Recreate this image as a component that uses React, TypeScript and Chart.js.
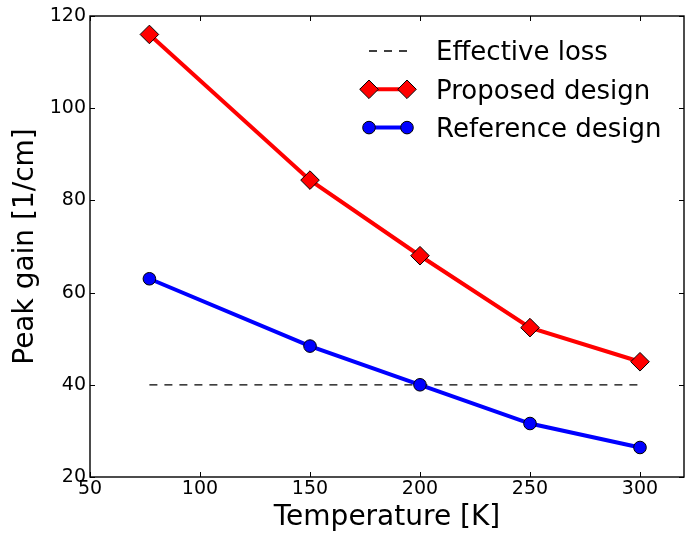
import React, { useEffect, useRef } from "react";
import { Chart, registerables } from "chart.js";

Chart.register(...registerables);

// ---- data ----
const temperatures = [77, 150, 200, 250, 300];
const proposedGain = [116, 84.4, 68, 52.4, 45];
const referenceGain = [63, 48.4, 40, 31.6, 26.4];
const lossTemps = [77, 300];
const lossValues = [40, 40];
const xTicks = [50, 100, 150, 200, 250, 300];
const yTicks = [20, 40, 60, 80, 100, 120];
const xRange = [50, 320];
const yRange = [20, 120];
const seriesLabels = ["Effective loss", "Proposed design", "Reference design"];
const xTitle = "Temperature [K]";
const yTitle = "Peak gain [1/cm]";

const FONT = "'DejaVu Sans', Verdana, sans-serif";

const framePlugin = {
  id: "frameTicks",
  afterDatasetsDraw(chart: any) {
    const { ctx, chartArea: a, scales } = chart;
    const xs = scales.x;
    const ys = scales.y;
    ctx.save();
    ctx.strokeStyle = "#000";
    ctx.lineWidth = 1;
    ctx.beginPath();
    for (const v of xTicks) {
      const px = Math.round(xs.getPixelForValue(v)) + 0.5;
      ctx.moveTo(px, a.bottom);
      ctx.lineTo(px, a.bottom - 5);
      ctx.moveTo(px, a.top);
      ctx.lineTo(px, a.top + 5);
    }
    for (const v of yTicks) {
      const py = Math.round(ys.getPixelForValue(v)) + 0.5;
      ctx.moveTo(a.left, py);
      ctx.lineTo(a.left + 5, py);
      ctx.moveTo(a.right, py);
      ctx.lineTo(a.right - 5, py);
    }
    ctx.stroke();
    ctx.lineWidth = 1.4;
    ctx.strokeRect(a.left, a.top, a.right - a.left, a.bottom - a.top);
    ctx.restore();
  },
};

function drawMarker(ctx: CanvasRenderingContext2D, style: string, x: number, y: number, r: number, fill: string) {
  ctx.beginPath();
  if (style === "rectRot") {
    ctx.moveTo(x - r, y);
    ctx.lineTo(x, y - r);
    ctx.lineTo(x + r, y);
    ctx.lineTo(x, y + r);
    ctx.closePath();
  } else {
    ctx.arc(x, y, r, 0, Math.PI * 2);
  }
  ctx.fillStyle = fill;
  ctx.fill();
  ctx.lineWidth = 1;
  ctx.strokeStyle = "#000";
  ctx.stroke();
}

const legendPlugin = {
  id: "mplLegend",
  afterDraw(chart: any) {
    const { ctx } = chart;
    const order = [2, 0, 1];
    const rowY = [51, 89.3, 127.6];
    const hx0 = 369;
    const hx1 = 407;
    const tx = 436;
    ctx.save();
    order.forEach((di: number, i: number) => {
      const ds = chart.data.datasets[di];
      const y = rowY[i];
      ctx.beginPath();
      ctx.setLineDash(ds.borderDash || []);
      ctx.lineWidth = ds.borderWidth;
      ctx.strokeStyle = ds.borderColor;
      ctx.moveTo(hx0, y);
      ctx.lineTo(hx1, y);
      ctx.stroke();
      ctx.setLineDash([]);
      if (ds.pointRadius > 0) {
        drawMarker(ctx, ds.pointStyle, hx0, y, ds.pointRadius, ds.pointBackgroundColor);
        drawMarker(ctx, ds.pointStyle, hx1, y, ds.pointRadius, ds.pointBackgroundColor);
      }
      ctx.fillStyle = "#000";
      ctx.font = `26px ${FONT}`;
      ctx.textAlign = "left";
      ctx.textBaseline = "alphabetic";
      ctx.fillText(ds.label, tx, y + 9.3);
    });
    ctx.restore();
  },
};

export default function App() {
  const ref = useRef<HTMLCanvasElement | null>(null);

  useEffect(() => {
    if (!ref.current) return;
    const chart = new Chart(ref.current, {
      type: "line",
      data: {
        datasets: [
          {
            label: seriesLabels[1],
            data: temperatures.map((t, i) => ({ x: t, y: proposedGain[i] })),
            borderColor: "#ff0000",
            backgroundColor: "#ff0000",
            borderWidth: 4,
            pointStyle: "rectRot",
            pointRadius: 9.3,
            pointBackgroundColor: "#ff0000",
            pointBorderColor: "#000",
            pointBorderWidth: 1,
            order: 1,
          },
          {
            label: seriesLabels[2],
            data: temperatures.map((t, i) => ({ x: t, y: referenceGain[i] })),
            borderColor: "#0000ff",
            backgroundColor: "#0000ff",
            borderWidth: 4,
            pointStyle: "circle",
            pointRadius: 6.3,
            pointBackgroundColor: "#0000ff",
            pointBorderColor: "#000",
            pointBorderWidth: 1,
            order: 2,
          },
          {
            label: seriesLabels[0],
            data: lossTemps.map((t, i) => ({ x: t, y: lossValues[i] })),
            borderColor: "#000",
            borderWidth: 1.3,
            borderDash: [8, 7],
            pointRadius: 0,
            order: 3,
          },
        ],
      },
      options: {
        animation: false,
        responsive: false,
        maintainAspectRatio: false,
        events: [],
        layout: { autoPadding: false, padding: { top: 16, right: 2, left: 0, bottom: 0 } },
        plugins: {
          legend: { display: false },
          tooltip: { enabled: false },
        },
        scales: {
          x: {
            type: "linear",
            min: xRange[0],
            max: xRange[1],
            grid: { display: false, drawTicks: false },
            border: { display: false },
            afterBuildTicks: (s: any) => {
              s.ticks = xTicks.map((v) => ({ value: v }));
            },
            afterFit: (s: any) => {
              s.height = 60;
              s.paddingLeft = 0;
              s.paddingRight = 0;
            },
            ticks: {
              color: "#000",
              font: { family: FONT, size: 19 },
              padding: 1,
              maxRotation: 0,
              autoSkip: false,
            },
            title: {
              display: true,
              text: xTitle,
              color: "#000",
              font: { family: FONT, size: 28 },
              padding: { top: 0, bottom: 2 },
            },
          },
          y: {
            type: "linear",
            min: yRange[0],
            max: yRange[1],
            grid: { display: false, drawTicks: false },
            border: { display: false },
            afterBuildTicks: (s: any) => {
              s.ticks = yTicks.map((v) => ({ value: v }));
            },
            afterFit: (s: any) => {
              s.width = 90;
              s.paddingTop = 0;
              s.paddingBottom = 0;
            },
            ticks: {
              color: "#000",
              font: { family: FONT, size: 19 },
              padding: 4,
              autoSkip: false,
            },
            title: {
              display: true,
              text: yTitle,
              color: "#000",
              font: { family: FONT, size: 28 },
              padding: { top: 9, bottom: 0 },
            },
          },
        },
      },
      plugins: [framePlugin, legendPlugin],
    });
    return () => chart.destroy();
  }, []);

  return (
    <div style={{ position: "absolute", left: 0, top: 0, width: 686, height: 537, background: "#fff" }}>
      <canvas ref={ref} width={686} height={537} style={{ width: 686, height: 537, display: "block" }} />
    </div>
  );
}
